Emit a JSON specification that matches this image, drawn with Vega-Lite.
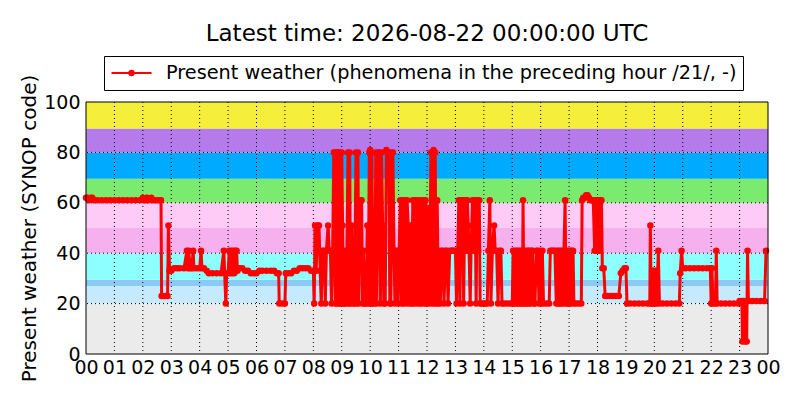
{
  "$schema": "https://vega.github.io/schema/vega-lite/v6.json",
  "width": 682,
  "height": 252,
  "autosize": "none",
  "padding": {"left": 86, "top": 102, "right": 32, "bottom": 46},
  "background": "white",
  "config": {
    "font": "DejaVu Sans",
    "view": {"stroke": null},
    "axis": {"labelOverlap": false, "labelFlush": false, "labelBound": false, "grid": false, "ticks": false, "domain": false, "labelSeparation": 0},
    "axisX": {"tickCount": 30},
    "axisY": {"tickCount": 10}
  },
  "title": {
    "text": "Latest time: 2026-08-22 00:00:00 UTC",
    "font": "DejaVu Sans",
    "fontSize": 23,
    "fontWeight": "normal",
    "color": "black",
    "anchor": "middle",
    "frame": "group",
    "offset": 10
  },
  "datasets": {
    "bands": [
      {"lo": 0, "hi": 20, "band": "00-19"},
      {"lo": 20, "hi": 27, "band": "20-26"},
      {"lo": 27, "hi": 29.5, "band": "27-29"},
      {"lo": 29.5, "hi": 40, "band": "30-39"},
      {"lo": 40, "hi": 50, "band": "40-49"},
      {"lo": 50, "hi": 60, "band": "50-59"},
      {"lo": 60, "hi": 69.5, "band": "60-69"},
      {"lo": 69.5, "hi": 80, "band": "70-79"},
      {"lo": 80, "hi": 89.5, "band": "80-89"},
      {"lo": 89.5, "hi": 100, "band": "90-99"}
    ],
    "hours": [
      {"h": 1}, {"h": 2}, {"h": 3}, {"h": 4}, {"h": 5}, {"h": 6}, {"h": 7}, {"h": 8},
      {"h": 9}, {"h": 10}, {"h": 11}, {"h": 12}, {"h": 13}, {"h": 14}, {"h": 15}, {"h": 16},
      {"h": 17}, {"h": 18}, {"h": 19}, {"h": 20}, {"h": 21}, {"h": 22}, {"h": 23}
    ],
    "levels": [{"y": 20}, {"y": 40}, {"y": 60}, {"y": 80}],
    "obs": [
      {"t": 0, "v": 62}, {"t": 0.05, "v": 62}, {"t": 0.1, "v": 61}, {"t": 0.17, "v": 62},
      {"t": 0.22, "v": 62}, {"t": 0.28, "v": 61}, {"t": 0.4, "v": 61}, {"t": 0.55, "v": 61},
      {"t": 0.7, "v": 61}, {"t": 0.85, "v": 61}, {"t": 1.0, "v": 61}, {"t": 1.15, "v": 61},
      {"t": 1.3, "v": 61}, {"t": 1.45, "v": 61}, {"t": 1.6, "v": 61}, {"t": 1.75, "v": 61},
      {"t": 1.9, "v": 61}, {"t": 2.0, "v": 62}, {"t": 2.05, "v": 61}, {"t": 2.12, "v": 61},
      {"t": 2.15, "v": 62}, {"t": 2.2, "v": 61}, {"t": 2.3, "v": 62}, {"t": 2.35, "v": 61},
      {"t": 2.45, "v": 61}, {"t": 2.55, "v": 61}, {"t": 2.64, "v": 61}, {"t": 2.66, "v": 23},
      {"t": 2.72, "v": 23}, {"t": 2.8, "v": 23}, {"t": 2.87, "v": 23}, {"t": 2.9, "v": 51},
      {"t": 2.94, "v": 33}, {"t": 3.0, "v": 33}, {"t": 3.1, "v": 34}, {"t": 3.2, "v": 34},
      {"t": 3.3, "v": 34}, {"t": 3.45, "v": 34}, {"t": 3.55, "v": 41}, {"t": 3.58, "v": 34},
      {"t": 3.62, "v": 41}, {"t": 3.66, "v": 34}, {"t": 3.72, "v": 34}, {"t": 3.77, "v": 41},
      {"t": 3.8, "v": 34}, {"t": 3.9, "v": 34}, {"t": 4.0, "v": 34}, {"t": 4.05, "v": 41},
      {"t": 4.08, "v": 34}, {"t": 4.15, "v": 34}, {"t": 4.25, "v": 33}, {"t": 4.32, "v": 32},
      {"t": 4.45, "v": 32}, {"t": 4.6, "v": 32}, {"t": 4.75, "v": 32}, {"t": 4.85, "v": 41},
      {"t": 4.88, "v": 32}, {"t": 4.92, "v": 20}, {"t": 4.95, "v": 32}, {"t": 5.0, "v": 32},
      {"t": 5.04, "v": 41}, {"t": 5.08, "v": 32}, {"t": 5.12, "v": 41}, {"t": 5.15, "v": 32},
      {"t": 5.19, "v": 41}, {"t": 5.22, "v": 32}, {"t": 5.26, "v": 41}, {"t": 5.3, "v": 41},
      {"t": 5.33, "v": 33}, {"t": 5.4, "v": 34}, {"t": 5.5, "v": 34}, {"t": 5.6, "v": 33},
      {"t": 5.7, "v": 33}, {"t": 5.8, "v": 32}, {"t": 5.9, "v": 32}, {"t": 6.0, "v": 32},
      {"t": 6.1, "v": 33}, {"t": 6.2, "v": 33}, {"t": 6.35, "v": 33}, {"t": 6.5, "v": 33},
      {"t": 6.62, "v": 33}, {"t": 6.72, "v": 32}, {"t": 6.78, "v": 32}, {"t": 6.8, "v": 20},
      {"t": 6.9, "v": 20}, {"t": 7.0, "v": 20}, {"t": 7.03, "v": 32}, {"t": 7.12, "v": 32},
      {"t": 7.22, "v": 32}, {"t": 7.32, "v": 33}, {"t": 7.42, "v": 33}, {"t": 7.52, "v": 34},
      {"t": 7.62, "v": 34}, {"t": 7.72, "v": 34}, {"t": 7.82, "v": 34}, {"t": 7.92, "v": 33},
      {"t": 8.0, "v": 33}, {"t": 8.03, "v": 20}, {"t": 8.06, "v": 51}, {"t": 8.1, "v": 33},
      {"t": 8.15, "v": 51}, {"t": 8.2, "v": 51}, {"t": 8.24, "v": 33}, {"t": 8.28, "v": 20},
      {"t": 8.32, "v": 41}, {"t": 8.38, "v": 41}, {"t": 8.42, "v": 20}, {"t": 8.46, "v": 41},
      {"t": 8.52, "v": 51}, {"t": 8.56, "v": 41}, {"t": 8.6, "v": 41}, {"t": 8.64, "v": 20},
      {"t": 8.68, "v": 41}, {"t": 8.72, "v": 80}, {"t": 8.75, "v": 80}, {"t": 8.77, "v": 20},
      {"t": 8.8, "v": 80}, {"t": 8.83, "v": 20}, {"t": 8.86, "v": 80}, {"t": 8.88, "v": 80},
      {"t": 8.9, "v": 20}, {"t": 8.93, "v": 80}, {"t": 8.96, "v": 20}, {"t": 9.0, "v": 80},
      {"t": 9.03, "v": 51}, {"t": 9.06, "v": 20}, {"t": 9.1, "v": 20}, {"t": 9.13, "v": 41},
      {"t": 9.16, "v": 20}, {"t": 9.22, "v": 80}, {"t": 9.25, "v": 20}, {"t": 9.28, "v": 80},
      {"t": 9.31, "v": 20}, {"t": 9.36, "v": 51}, {"t": 9.4, "v": 20}, {"t": 9.45, "v": 20},
      {"t": 9.5, "v": 80}, {"t": 9.53, "v": 20}, {"t": 9.57, "v": 80}, {"t": 9.6, "v": 20},
      {"t": 9.65, "v": 61}, {"t": 9.7, "v": 61}, {"t": 9.73, "v": 20}, {"t": 9.76, "v": 41},
      {"t": 9.8, "v": 20}, {"t": 9.85, "v": 20}, {"t": 9.9, "v": 51}, {"t": 9.93, "v": 20},
      {"t": 9.97, "v": 80}, {"t": 10.0, "v": 81}, {"t": 10.03, "v": 20}, {"t": 10.06, "v": 80},
      {"t": 10.1, "v": 20}, {"t": 10.15, "v": 20}, {"t": 10.2, "v": 80}, {"t": 10.23, "v": 20},
      {"t": 10.28, "v": 80}, {"t": 10.32, "v": 80}, {"t": 10.36, "v": 20}, {"t": 10.4, "v": 80},
      {"t": 10.44, "v": 51}, {"t": 10.48, "v": 20}, {"t": 10.53, "v": 20}, {"t": 10.57, "v": 81},
      {"t": 10.6, "v": 80}, {"t": 10.63, "v": 80}, {"t": 10.66, "v": 80}, {"t": 10.69, "v": 20},
      {"t": 10.73, "v": 20}, {"t": 10.77, "v": 80}, {"t": 10.8, "v": 80}, {"t": 10.84, "v": 41},
      {"t": 10.87, "v": 20}, {"t": 10.9, "v": 41}, {"t": 10.95, "v": 41}, {"t": 10.98, "v": 20},
      {"t": 11.02, "v": 41}, {"t": 11.06, "v": 61}, {"t": 11.1, "v": 20}, {"t": 11.14, "v": 61},
      {"t": 11.17, "v": 20}, {"t": 11.2, "v": 41}, {"t": 11.24, "v": 61}, {"t": 11.27, "v": 20},
      {"t": 11.3, "v": 61}, {"t": 11.34, "v": 51}, {"t": 11.38, "v": 20}, {"t": 11.42, "v": 51},
      {"t": 11.46, "v": 20}, {"t": 11.5, "v": 61}, {"t": 11.53, "v": 20}, {"t": 11.56, "v": 61},
      {"t": 11.6, "v": 61}, {"t": 11.63, "v": 20}, {"t": 11.67, "v": 61}, {"t": 11.7, "v": 41},
      {"t": 11.73, "v": 20}, {"t": 11.77, "v": 61}, {"t": 11.8, "v": 20}, {"t": 11.84, "v": 41},
      {"t": 11.88, "v": 61}, {"t": 11.91, "v": 20}, {"t": 11.95, "v": 61}, {"t": 11.98, "v": 20},
      {"t": 12.02, "v": 58}, {"t": 12.06, "v": 20}, {"t": 12.1, "v": 41}, {"t": 12.14, "v": 80},
      {"t": 12.17, "v": 20}, {"t": 12.2, "v": 80}, {"t": 12.23, "v": 81}, {"t": 12.26, "v": 20},
      {"t": 12.29, "v": 80}, {"t": 12.32, "v": 20}, {"t": 12.36, "v": 61}, {"t": 12.4, "v": 20},
      {"t": 12.43, "v": 41}, {"t": 12.47, "v": 20}, {"t": 12.52, "v": 41}, {"t": 12.56, "v": 41},
      {"t": 12.6, "v": 20}, {"t": 12.65, "v": 41}, {"t": 12.7, "v": 41}, {"t": 12.74, "v": 20},
      {"t": 12.8, "v": 41}, {"t": 12.86, "v": 41}, {"t": 12.9, "v": 41}, {"t": 12.95, "v": 41},
      {"t": 13.0, "v": 41}, {"t": 13.04, "v": 20}, {"t": 13.08, "v": 41}, {"t": 13.12, "v": 61},
      {"t": 13.16, "v": 20}, {"t": 13.2, "v": 61}, {"t": 13.23, "v": 41}, {"t": 13.26, "v": 61},
      {"t": 13.29, "v": 20}, {"t": 13.32, "v": 51}, {"t": 13.35, "v": 61}, {"t": 13.38, "v": 41},
      {"t": 13.42, "v": 61}, {"t": 13.45, "v": 51}, {"t": 13.48, "v": 41}, {"t": 13.52, "v": 20},
      {"t": 13.55, "v": 41}, {"t": 13.6, "v": 61}, {"t": 13.63, "v": 41}, {"t": 13.66, "v": 61},
      {"t": 13.7, "v": 51}, {"t": 13.73, "v": 20}, {"t": 13.76, "v": 61}, {"t": 13.8, "v": 41},
      {"t": 13.84, "v": 61}, {"t": 13.87, "v": 20}, {"t": 13.92, "v": 20}, {"t": 14.0, "v": 20},
      {"t": 14.06, "v": 20}, {"t": 14.12, "v": 20}, {"t": 14.16, "v": 41}, {"t": 14.21, "v": 61},
      {"t": 14.25, "v": 20}, {"t": 14.3, "v": 41}, {"t": 14.36, "v": 51}, {"t": 14.4, "v": 41},
      {"t": 14.45, "v": 41}, {"t": 14.5, "v": 20}, {"t": 14.55, "v": 41}, {"t": 14.6, "v": 41},
      {"t": 14.64, "v": 20}, {"t": 14.7, "v": 20}, {"t": 14.8, "v": 20}, {"t": 14.9, "v": 20},
      {"t": 15.0, "v": 20}, {"t": 15.03, "v": 41}, {"t": 15.06, "v": 20}, {"t": 15.09, "v": 41},
      {"t": 15.12, "v": 20}, {"t": 15.15, "v": 41}, {"t": 15.18, "v": 20}, {"t": 15.21, "v": 41},
      {"t": 15.24, "v": 20}, {"t": 15.27, "v": 41}, {"t": 15.3, "v": 20}, {"t": 15.33, "v": 41},
      {"t": 15.36, "v": 20}, {"t": 15.38, "v": 61}, {"t": 15.41, "v": 20}, {"t": 15.44, "v": 41},
      {"t": 15.47, "v": 20}, {"t": 15.5, "v": 41}, {"t": 15.53, "v": 20}, {"t": 15.56, "v": 41},
      {"t": 15.59, "v": 20}, {"t": 15.62, "v": 41}, {"t": 15.65, "v": 20}, {"t": 15.68, "v": 41},
      {"t": 15.72, "v": 41}, {"t": 15.76, "v": 20}, {"t": 15.8, "v": 20}, {"t": 15.85, "v": 41},
      {"t": 15.9, "v": 41}, {"t": 15.94, "v": 20}, {"t": 15.98, "v": 41}, {"t": 16.02, "v": 20},
      {"t": 16.06, "v": 41}, {"t": 16.1, "v": 20}, {"t": 16.2, "v": 20}, {"t": 16.3, "v": 20},
      {"t": 16.34, "v": 41}, {"t": 16.4, "v": 41}, {"t": 16.45, "v": 41}, {"t": 16.5, "v": 41},
      {"t": 16.55, "v": 20}, {"t": 16.58, "v": 41}, {"t": 16.61, "v": 20}, {"t": 16.64, "v": 41},
      {"t": 16.67, "v": 20}, {"t": 16.7, "v": 41}, {"t": 16.73, "v": 20}, {"t": 16.76, "v": 41},
      {"t": 16.79, "v": 20}, {"t": 16.82, "v": 41}, {"t": 16.86, "v": 61}, {"t": 16.89, "v": 20},
      {"t": 16.92, "v": 41}, {"t": 16.95, "v": 20}, {"t": 16.98, "v": 41}, {"t": 17.01, "v": 20},
      {"t": 17.04, "v": 41}, {"t": 17.07, "v": 20}, {"t": 17.1, "v": 41}, {"t": 17.14, "v": 41},
      {"t": 17.17, "v": 20}, {"t": 17.25, "v": 20}, {"t": 17.35, "v": 20}, {"t": 17.43, "v": 20},
      {"t": 17.46, "v": 61}, {"t": 17.5, "v": 62}, {"t": 17.55, "v": 62}, {"t": 17.6, "v": 63},
      {"t": 17.65, "v": 63}, {"t": 17.7, "v": 62}, {"t": 17.75, "v": 61}, {"t": 17.8, "v": 61},
      {"t": 17.85, "v": 61}, {"t": 17.9, "v": 41}, {"t": 17.93, "v": 61}, {"t": 17.96, "v": 41},
      {"t": 17.99, "v": 61}, {"t": 18.02, "v": 41}, {"t": 18.05, "v": 61}, {"t": 18.08, "v": 41},
      {"t": 18.11, "v": 61}, {"t": 18.14, "v": 61}, {"t": 18.17, "v": 34}, {"t": 18.22, "v": 34},
      {"t": 18.27, "v": 23}, {"t": 18.35, "v": 23}, {"t": 18.45, "v": 23}, {"t": 18.55, "v": 23},
      {"t": 18.65, "v": 23}, {"t": 18.75, "v": 23}, {"t": 18.82, "v": 32}, {"t": 18.88, "v": 33},
      {"t": 18.95, "v": 34}, {"t": 19.0, "v": 34}, {"t": 19.04, "v": 20}, {"t": 19.15, "v": 20},
      {"t": 19.3, "v": 20}, {"t": 19.45, "v": 20}, {"t": 19.6, "v": 20}, {"t": 19.75, "v": 20},
      {"t": 19.84, "v": 20}, {"t": 19.86, "v": 51}, {"t": 19.89, "v": 20}, {"t": 19.92, "v": 33},
      {"t": 19.95, "v": 20}, {"t": 19.98, "v": 33}, {"t": 20.02, "v": 20}, {"t": 20.05, "v": 33},
      {"t": 20.08, "v": 20}, {"t": 20.14, "v": 41}, {"t": 20.18, "v": 20}, {"t": 20.3, "v": 20},
      {"t": 20.45, "v": 20}, {"t": 20.6, "v": 20}, {"t": 20.75, "v": 20}, {"t": 20.88, "v": 20},
      {"t": 20.91, "v": 32}, {"t": 20.96, "v": 41}, {"t": 21.0, "v": 34}, {"t": 21.1, "v": 34},
      {"t": 21.25, "v": 34}, {"t": 21.4, "v": 34}, {"t": 21.55, "v": 34}, {"t": 21.7, "v": 34},
      {"t": 21.85, "v": 34}, {"t": 21.97, "v": 34}, {"t": 22.0, "v": 20}, {"t": 22.03, "v": 34},
      {"t": 22.06, "v": 20}, {"t": 22.15, "v": 20}, {"t": 22.18, "v": 41}, {"t": 22.21, "v": 20},
      {"t": 22.35, "v": 20}, {"t": 22.5, "v": 20}, {"t": 22.65, "v": 20}, {"t": 22.8, "v": 20},
      {"t": 22.95, "v": 20}, {"t": 23.0, "v": 21}, {"t": 23.08, "v": 21}, {"t": 23.1, "v": 5},
      {"t": 23.15, "v": 21}, {"t": 23.2, "v": 5}, {"t": 23.25, "v": 5}, {"t": 23.28, "v": 41},
      {"t": 23.31, "v": 21}, {"t": 23.45, "v": 21}, {"t": 23.6, "v": 21}, {"t": 23.75, "v": 21},
      {"t": 23.88, "v": 21}, {"t": 23.93, "v": 41}
    ]
  },
  "layer": [
    {
      "data": {"name": "bands"},
      "mark": {"type": "rect"},
      "encoding": {
        "x": {
          "datum": 0,
          "type": "quantitative",
          "scale": {"domain": [0, 24], "nice": false},
          "axis": {
            "values": [0, 1, 2, 3, 4, 5, 6, 7, 8, 9, 10, 11, 12, 13, 14, 15, 16, 17, 18, 19, 20, 21, 22, 23, 24],
            "tickCount": 30,
            "labelExpr": "format(datum.value % 24, '02d')",
            "title": null,
            "labelFontSize": 19,
            "labelColor": "black",
            "labelPadding": 4
          }
        },
        "x2": {"datum": 24},
        "y": {
          "field": "lo",
          "type": "quantitative",
          "scale": {"domain": [0, 100], "nice": false},
          "axis": {
            "values": [0, 20, 40, 60, 80, 100],
            "tickCount": 10,
            "title": "Present weather (SYNOP code)",
            "titleFontSize": 20,
            "titleFontWeight": "normal",
            "titleColor": "black",
            "titlePadding": 4,
            "labelFontSize": 19,
            "labelColor": "black",
            "labelPadding": 6
          }
        },
        "y2": {"field": "hi"},
        "fill": {
          "field": "band",
          "type": "nominal",
          "scale": {
            "domain": ["00-19", "20-26", "27-29", "30-39", "40-49", "50-59", "60-69", "70-79", "80-89", "90-99"],
            "range": ["#ebebeb", "#c6eafd", "#8ccaf5", "#8dffff", "#f5b0ed", "#fecbf6", "#7beb6f", "#00aaff", "#b57bea", "#f5ee3b"]
          },
          "legend": null
        }
      }
    },
    {
      "data": {"name": "hours"},
      "mark": {"type": "rule", "color": "black", "strokeWidth": 1, "strokeDash": [1, 3]},
      "encoding": {"x": {"field": "h", "type": "quantitative"}}
    },
    {
      "data": {"name": "levels"},
      "mark": {"type": "rule", "color": "black", "strokeWidth": 1, "strokeDash": [1, 3]},
      "encoding": {"y": {"field": "y", "type": "quantitative"}}
    },
    {
      "data": {"name": "obs"},
      "mark": {
        "type": "line",
        "strokeWidth": 3,
        "point": {"filled": true, "size": 42}
      },
      "encoding": {
        "x": {"field": "t", "type": "quantitative"},
        "y": {"field": "v", "type": "quantitative"},
        "color": {
          "datum": "Present weather (phenomena in the preceding hour /21/, -)",
          "scale": {"range": ["#ff0000"]},
          "legend": {
            "title": null,
            "orient": "none",
            "legendX": 18,
            "legendY": -46,
            "strokeColor": "black",
            "fillColor": "white",
            "padding": 6,
            "labelFontSize": 19.3,
            "labelColor": "black",
            "labelLimit": 0,
            "labelOffset": 34,
            "symbolType": "M-0.95,0L3.05,0M1.27,0A0.22,0.22,0,1,1,0.83,0A0.22,0.22,0,1,1,1.27,0Z",
            "symbolSize": 400,
            "symbolStrokeWidth": 2,
            "symbolStrokeColor": "#ff0000",
            "symbolFillColor": "#ff0000",
            "encode": {"symbols": {"update": {"fill": {"value": "#ff0000"}, "stroke": {"value": "#ff0000"}}}}
          }
        }
      }
    },
    {
      "data": {"values": [{}]},
      "mark": {"type": "rect", "fill": null, "stroke": "black", "strokeWidth": 1},
      "encoding": {
        "x": {"datum": 0, "type": "quantitative"},
        "x2": {"datum": 24},
        "y": {"datum": 0, "type": "quantitative"},
        "y2": {"datum": 100}
      }
    }
  ]
}
